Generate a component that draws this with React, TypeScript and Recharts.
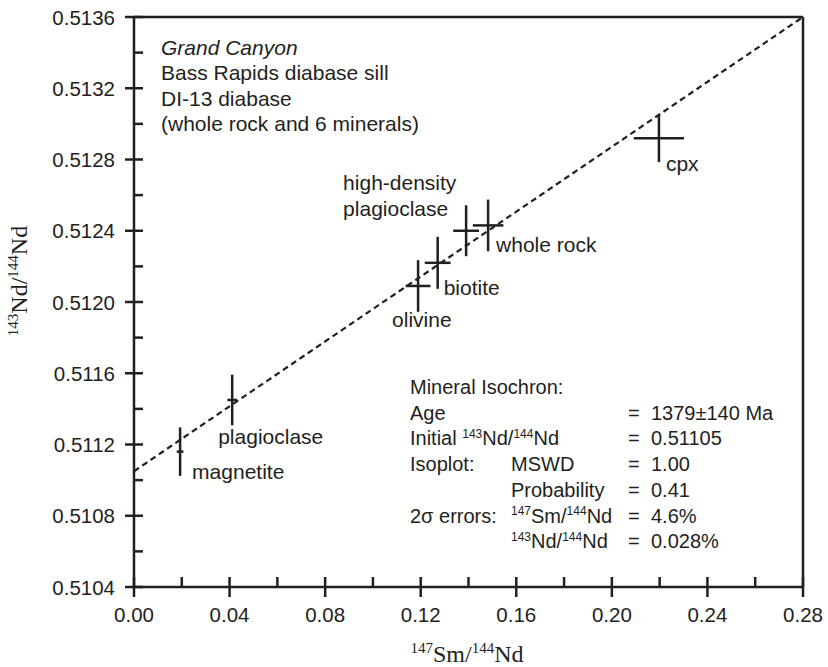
import React from 'react';
import { ScatterChart, Scatter, XAxis, YAxis, ErrorBar, ReferenceLine } from 'recharts';

const minerals = ['magnetite', 'plagioclase', 'olivine', 'biotite', 'high-density\nplagioclase', 'whole rock', 'cpx'];
const smNd = [0.0193, 0.0411, 0.1189, 0.1271, 0.139, 0.1482, 0.2197];
const ndNd = [0.51116, 0.51145, 0.51209, 0.51222, 0.5124, 0.51243, 0.51292];
const smNdErr = [0.0014, 0.002, 0.0052, 0.0054, 0.0054, 0.0064, 0.0105];
const ndNdErr = [0.000136, 0.000142, 0.000145, 0.000146, 0.000143, 0.000145, 0.000135];

// fitted isochron end points
const isochronX = [0, 0.28];
const isochronY = [0.51105, 0.5136];

const xTicks = [0, 0.02, 0.04, 0.06, 0.08, 0.1, 0.12, 0.14, 0.16, 0.18, 0.2, 0.22, 0.24, 0.26, 0.28];
const yTicks = [
  0.5104, 0.5106, 0.5108, 0.511, 0.5112, 0.5114, 0.5116, 0.5118, 0.512,
  0.5122, 0.5124, 0.5126, 0.5128, 0.513, 0.5132, 0.5134, 0.5136,
];

const data = minerals.map((name, i) => ({
  name,
  x: smNd[i],
  y: ndNd[i],
  xErr: smNdErr[i],
  yErr: ndNdErr[i],
}));

const INK = '#231f20';
const SANS = '"Liberation Sans", Arial, sans-serif';
const SERIF = '"Liberation Serif", "Times New Roman", serif';
const TICK_SIZE = 9;
const TICK_MARGIN = 10;

// where each sample label sits relative to its cross
const labelOffsets: Record<string, [number, number]> = {
  magnetite: [12, 27],
  plagioclase: [-14, 44],
  olivine: [-26, 41],
  biotite: [6, 32],
  'high-density\nplagioclase': [-123, -41],
  'whole rock': [8, 27],
  cpx: [7, 33],
};

const XTick = (props: any) => {
  const { x, y, payload } = props;
  const v = payload.value;
  const major = Math.round(v * 100) % 4 === 0;
  const axisY = y - TICK_SIZE - TICK_MARGIN;
  return (
    <g>
      <line x1={x} x2={x} y1={axisY - 10} y2={major ? axisY + 10 : axisY} stroke={INK} strokeWidth={2.5} />
      {major && (
        <text x={x} y={axisY + 35} textAnchor="middle" fontSize={20.5} fontFamily={SANS} fill={INK}>
          {v.toFixed(2)}
        </text>
      )}
    </g>
  );
};

const YTick = (props: any) => {
  const { x, y, payload } = props;
  const v = payload.value;
  const major = Math.round(v * 10000) % 4 === 0;
  const axisX = x + TICK_SIZE + TICK_MARGIN;
  return (
    <g>
      <line x1={major ? axisX - 9 : axisX} x2={axisX + 9} y1={y} y2={y} stroke={INK} strokeWidth={2.5} />
      {major && (
        <text x={axisX - 19} y={y} dy={7.5} textAnchor="end" fontSize={20.5} fontFamily={SANS} fill={INK}>
          {v.toFixed(4)}
        </text>
      )}
    </g>
  );
};

const SampleShape = (props: any) => {
  const { cx, cy, payload } = props;
  const name: string = payload.name;
  const [dx, dy] = labelOffsets[name] || [8, 20];
  const lines = name.split('\n');
  return (
    <g>
      {lines.map((line, i) => (
        <text key={i} x={cx + dx} y={cy + dy + i * 26} fontSize={21} fontFamily={SANS} fill={INK}>
          {line}
        </text>
      ))}
    </g>
  );
};

const Sup = ({ children }: { children: React.ReactNode }) => (
  <tspan fontSize="0.62em" dy="-0.62em">{children}</tspan>
);

const infoRows = [
  { a: 'Mineral Isochron:', b: null, eq: null, v: null },
  { a: 'Age', b: null, eq: '=', v: '1379±140 Ma' },
  { a: 'initial', b: null, eq: '=', v: '0.51105' },
  { a: 'Isoplot:', b: 'MSWD', eq: '=', v: '1.00' },
  { a: null, b: 'Probability', eq: '=', v: '0.41' },
  { a: '2σ errors:', b: 'sm', eq: '=', v: '4.6%' },
  { a: null, b: 'nd', eq: '=', v: '0.028%' },
];

const ratio = (top: string, sym: string, fs: number) => (
  <>
    <tspan fontSize={fs * 0.6} dy={-fs * 0.38}>{top}</tspan>
    <tspan dy={fs * 0.38}>{sym}/</tspan>
    <tspan fontSize={fs * 0.6} dy={-fs * 0.38}>144</tspan>
    <tspan dy={fs * 0.38}>Nd</tspan>
  </>
);

const Overlay = () => {
  const fs = 20;
  const base = 394;
  const step = 25.7;
  return (
    <svg width={828} height={667} style={{ position: 'absolute', left: 0, top: 0, pointerEvents: 'none' }}>
      <g fontFamily={SANS} fontSize={21} fill={INK}>
        <text x={161} y={54.5} fontStyle="italic">Grand Canyon</text>
        <text x={161} y={80}>Bass Rapids diabase sill</text>
        <text x={161} y={105.5}>DI-13 diabase</text>
        <text x={161} y={131}>(whole rock and 6 minerals)</text>
      </g>
      <g fontFamily={SANS} fontSize={fs} fill={INK}>
        {infoRows.map((r, i) => {
          const y = base + i * step;
          return (
            <g key={i}>
              {r.a === 'initial' ? (
                <text x={410} y={y}>Initial {ratio('143', 'Nd', fs)}</text>
              ) : (
                r.a && <text x={410} y={y}>{r.a}</text>
              )}
              {r.b === 'sm' ? (
                <text x={511} y={y}>{ratio('147', 'Sm', fs)}</text>
              ) : r.b === 'nd' ? (
                <text x={511} y={y}>{ratio('143', 'Nd', fs)}</text>
              ) : (
                r.b && <text x={511} y={y}>{r.b}</text>
              )}
              {r.eq && <text x={628} y={y}>{r.eq}</text>}
              {r.v && <text x={651} y={y}>{r.v}</text>}
            </g>
          );
        })}
      </g>
      <text x={467} y={662} textAnchor="middle" fontFamily={SERIF} fontSize={24} fill={INK}>
        <tspan fontSize={15} dy={-9}>147</tspan>
        <tspan dy={9}>Sm/</tspan>
        <tspan fontSize={15} dy={-9}>144</tspan>
        <tspan dy={9}>Nd</tspan>
      </text>
      <text
        x={0}
        y={0}
        transform="translate(27,281) rotate(-90)"
        textAnchor="middle"
        fontFamily={SERIF}
        fontSize={24}
        fill={INK}
      >
        <tspan fontSize={15} dy={-9}>143</tspan>
        <tspan dy={9}>Nd/</tspan>
        <tspan fontSize={15} dy={-9}>144</tspan>
        <tspan dy={9}>Nd</tspan>
      </text>
    </svg>
  );
};

export default function App() {
  return (
    <div style={{ position: 'fixed', left: 0, top: 0, width: 828, height: 667, background: '#fff' }}>
      <ScatterChart width={828} height={667} margin={{ top: 17, right: 25, bottom: 20, left: 54 }}>
        <XAxis
          type="number"
          dataKey="x"
          domain={[0, 0.28]}
          ticks={xTicks}
          allowDataOverflow
          height={60}
          tickSize={TICK_SIZE}
          tickMargin={TICK_MARGIN}
          tickLine={false}
          axisLine={{ stroke: INK, strokeWidth: 2.5 }}
          tick={<XTick />}
          interval={0}
        />
        <YAxis
          type="number"
          dataKey="y"
          domain={[0.5104, 0.5136]}
          ticks={yTicks}
          allowDataOverflow
          width={80}
          tickSize={TICK_SIZE}
          tickMargin={TICK_MARGIN}
          tickLine={false}
          axisLine={{ stroke: INK, strokeWidth: 2.5 }}
          tick={<YTick />}
          interval={0}
        />
        <ReferenceLine y={0.5136} stroke={INK} strokeWidth={2.5} />
        <ReferenceLine x={0.28} stroke={INK} strokeWidth={2.5} />
        <ReferenceLine
          segment={[
            { x: isochronX[0], y: isochronY[0] },
            { x: isochronX[1], y: isochronY[1] },
          ]}
          stroke={INK}
          strokeWidth={2.2}
          strokeDasharray="6 4"
        />
        <Scatter data={data} isAnimationActive={false} shape={<SampleShape />}>
          <ErrorBar dataKey="xErr" direction="x" width={0} stroke={INK} strokeWidth={2.5} isAnimationActive={false} />
          <ErrorBar dataKey="yErr" direction="y" width={0} stroke={INK} strokeWidth={2.5} isAnimationActive={false} />
        </Scatter>
      </ScatterChart>
      <Overlay />
    </div>
  );
}
